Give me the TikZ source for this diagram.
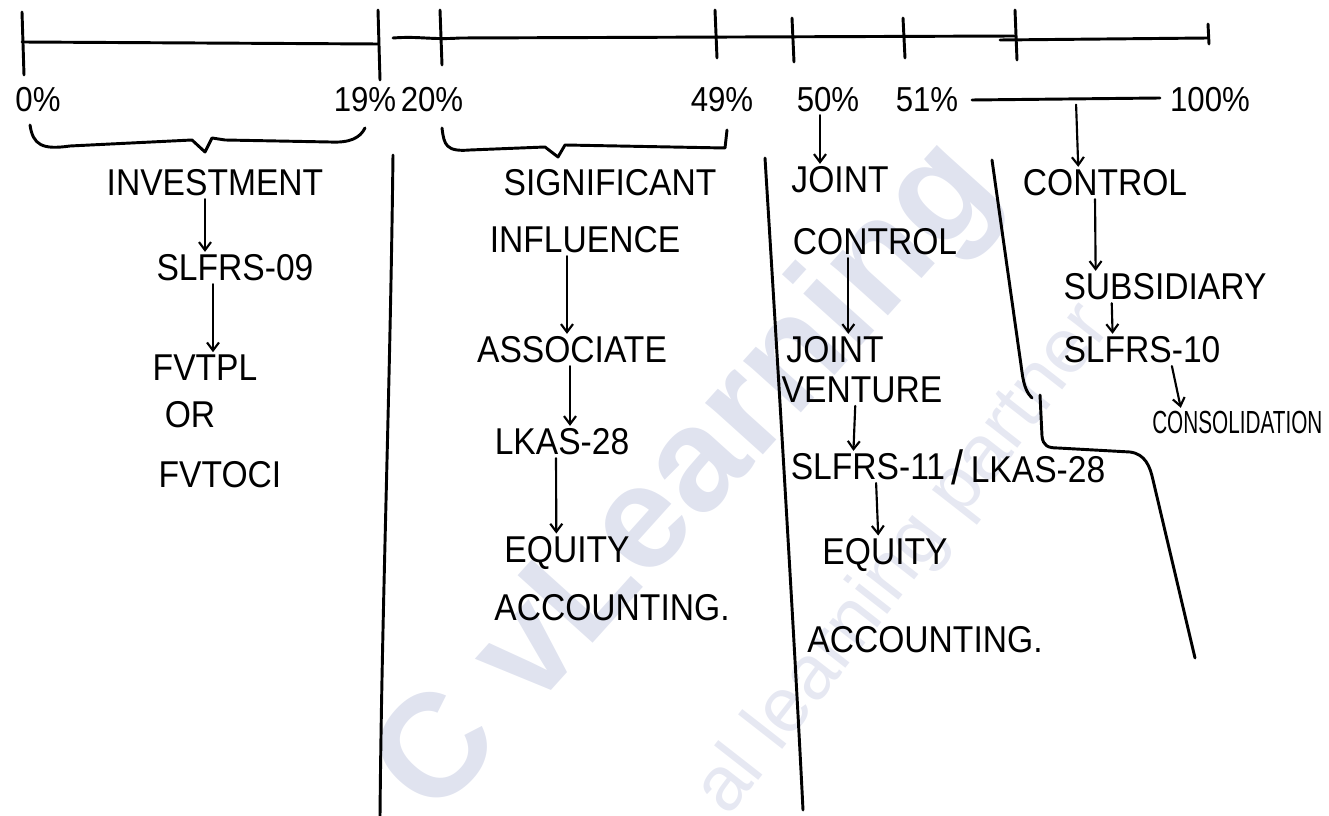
\documentclass[tikz,border=0pt]{standalone}
\usepackage{fontspec}
\setmainfont[FakeStretch=0.9]{Liberation Sans}
\newfontfamily\wmfont{Liberation Sans}
\usetikzlibrary{arrows.meta}
\definecolor{wmcol}{RGB}{224,227,239}
\definecolor{wmcoltwo}{RGB}{230,232,242}
\begin{document}
\begin{tikzpicture}[x=0.75pt,y=-0.75pt,
  ink/.style={line width=2.2pt,line cap=round,line join=round},
  lbl/.style={font=\fontsize{28}{30}\selectfont,inner sep=0pt},
  pct/.style={font=\fontsize{26}{28}\selectfont,inner sep=0pt},
  arr/.style={line width=1.6pt,line cap=round,-{Straight Barb[length=6pt,width=9pt]},shorten <=2pt,shorten >=2pt},
  wm/.style={inner sep=0pt}]
\useasboundingbox (0,0) rectangle (1329,816);
\begin{scope}
\clip (0,0) rectangle (1329,816);
\node[wm,text=wmcol,rotate=48,font=\wmfont\bfseries\fontsize{110}{110}\selectfont] (wmark) at (690,480) {C vLearning};
\node[wm,text=wmcoltwo,rotate=52,font=\wmfont\fontsize{58}{58}\selectfont] (wmarktwo) at (905,560) {al learning partner};
\end{scope}
% timeline
\draw[ink] (22,42) -- (378,44);
\draw[ink] (22,12) -- (24,75);
\draw[ink] (378,10) -- (380,80);
\draw[ink] (393,38) .. controls (420,36) and (430,40) .. (460,38) -- (1015,36);
\draw[ink] (1000,40) -- (1208,38);
\draw[ink] (440,10) -- (442,65);
\draw[ink] (715,10) -- (717,58);
\draw[ink] (792,18) -- (794,62);
\draw[ink] (903,18) -- (905,58);
\draw[ink] (1015,10) -- (1017,60);
\draw[ink] (1208,24) -- (1209,44);
% percent labels
\node[pct] (p0) at (38,100) {0\%};
\node[pct] (p19) at (365,100) {19\%};
\node[pct] (p20) at (432,100) {20\%};
\node[pct] (p49) at (722,100) {49\%};
\node[pct] (p50) at (828,100) {50\%};
\node[pct] (p51) at (927,100) {51\%};
\node[pct] (p100) at (1210,100) {100\%};
\coordinate (rngA) at (972,100);
\coordinate (rngB) at (1160,98);
\coordinate (rng) at (1076,102);
\draw[ink] (rngA) -- (rngB);
% braces
\draw[ink] (30,125) .. controls (33,145) and (42,150) .. (70,146) -- (192,140) -- (205,152) -- (212,138) -- (225,140) -- (330,142) .. controls (350,143) and (360,138) .. (365,128);
\draw[ink] (442,128) .. controls (444,145) and (446,152) .. (470,150) -- (545,147) -- (558,157) -- (565,145) -- (725,148) -- (727,130);
% dividers
\draw[ink] (393,155) .. controls (390,400) and (382,600) .. (380,816);
\draw[ink] (765,158) .. controls (780,400) and (795,650) .. (803,810);
\draw[ink] (992,160) -- (1022,372) .. controls (1024,388) and (1028,394) .. (1032,398);
\draw[ink] (1040,395) -- (1042,436) .. controls (1043,446) and (1048,448) .. (1058,448) -- (1130,452) .. controls (1145,454) and (1150,466) .. (1153,480) -- (1195,658);
% column 1
\node[lbl] (inv) at (215,183) {INVESTMENT};
\node[lbl] (s9) at (235,268) {SLFRS-09};
\node[lbl] (fvtpl) at (205,368) {FVTPL};
\node[lbl] (or) at (190,415) {OR};
\node[lbl] (fvtoci) at (220,475) {FVTOCI};
\draw[arr] ([xshift=-7.5pt]inv.south) -- ([xshift=-22.5pt]s9.north);
\draw[arr] ([xshift=-16.5pt]s9.south) -- ([xshift=6pt]fvtpl.north);
% column 2
\node[lbl] (sig) at (610,183) {SIGNIFICANT};
\node[lbl] (infl) at (585,240) {INFLUENCE};
\node[lbl] (assoc) at (572,350) {ASSOCIATE};
\node[lbl] (lkas) at (562,442) {LKAS-28};
\node[lbl] (eqa) at (567,553) {EQUITY};
\node[lbl] (acca) at (612,608) {ACCOUNTING.};
\draw[arr] ([xshift=-13.5pt]infl.south) -- ([xshift=-3.75pt]assoc.north);
\draw[arr] ([xshift=-1.5pt]assoc.south) -- ([xshift=6pt]lkas.north);
\draw[arr] ([xshift=-4.5pt]lkas.south) -- ([xshift=-8pt]eqa.north);
% column 3
\node[lbl] (jca) at (840,180) {JOINT};
\node[lbl] (jcb) at (875,242) {CONTROL};
\node[lbl] (jva) at (835,350) {JOINT};
\node[lbl] (jvb) at (862,390) {VENTURE};
\node[lbl] (sla) at (868,467) {SLFRS-11};
\node[lbl,font=\fontsize{36}{36}\selectfont] (slash) at (957,467) {/};
\node[lbl] (lkb) at (1038,470) {LKAS-28};
\node[lbl] (eqb) at (885,555) {EQUITY};
\node[lbl] (accb) at (925,640) {ACCOUNTING.};
\draw[arr] ([xshift=-6pt]p50.south) -- ([xshift=-15pt]jca.north);
\draw[arr] ([xshift=-20pt]jcb.south) -- ([xshift=10pt]jva.north);
\draw[arr] ([xshift=-5pt]jvb.south) -- ([xshift=-11pt]sla.north);
\draw[arr] ([xshift=6pt]sla.south) -- ([xshift=-5pt]eqb.north);
% column 4
\node[lbl] (ctrl) at (1105,183) {CONTROL};
\node[lbl] (sub) at (1165,287) {SUBSIDIARY};
\node[lbl] (sten) at (1142,350) {SLFRS-10};
\node[lbl,anchor=west,font=\fontsize{24}{26}\selectfont] (cons) at (1152,422) {\scalebox{0.72}[1]{CONSOLIDATION}};
\draw[arr] (rng) -- ([xshift=-20pt]ctrl.north);
\draw[arr] ([xshift=-7.5pt]ctrl.south) -- ([xshift=-52pt]sub.north);
\draw[arr] ([xshift=-40pt]sub.south) -- ([xshift=-22pt]sten.north);
\draw[arr] ([xshift=22pt]sten.south) -- ([xshift=22pt]cons.north west);
\end{tikzpicture}
\end{document}
